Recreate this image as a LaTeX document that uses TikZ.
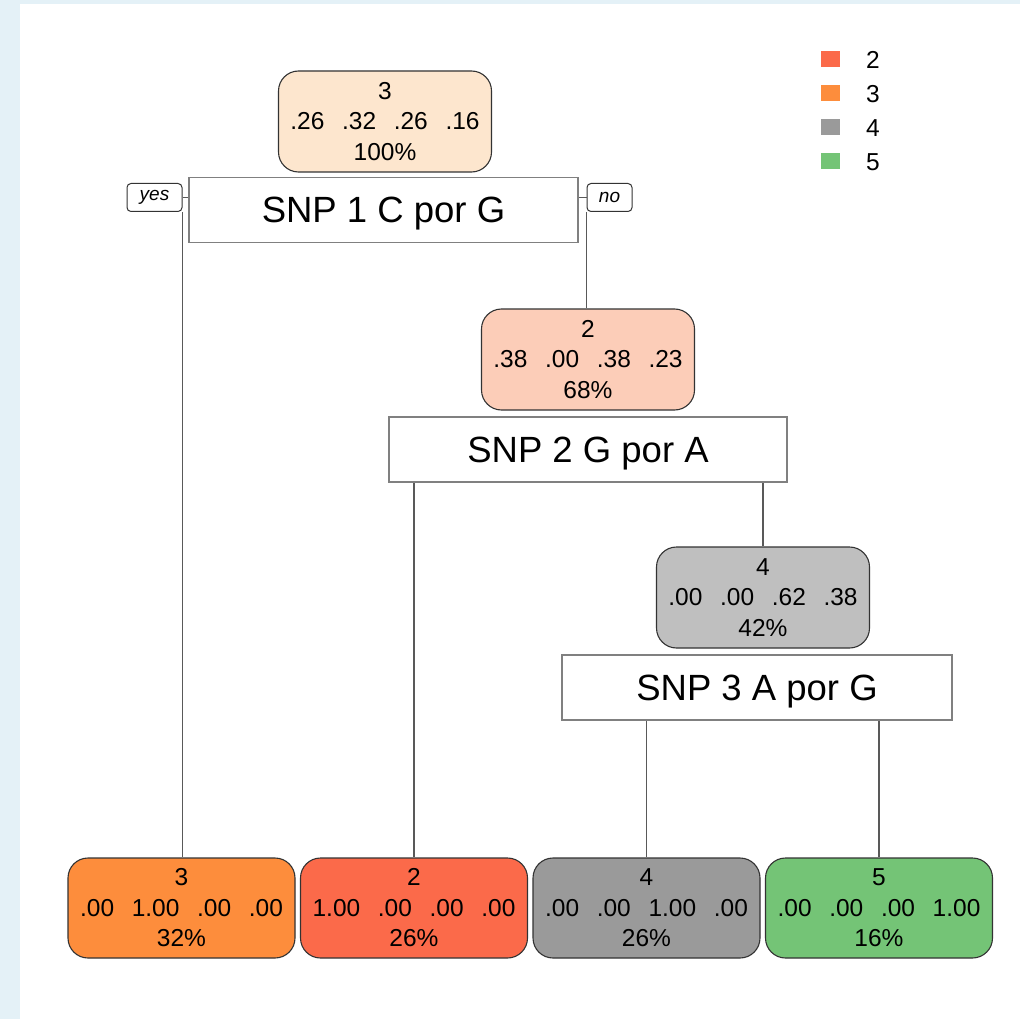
\documentclass[tikz,border=0pt]{standalone}
\usepackage{fontspec}
\setmainfont{Liberation Sans}
\definecolor{bgblue}{HTML}{E4F1F7}
\definecolor{cltwo}{HTML}{FB6A4A}
\definecolor{clthree}{HTML}{FD8D3C}
\definecolor{clfour}{HTML}{9A9A9A}
\definecolor{clfive}{HTML}{74C476}
\definecolor{rootfill}{HTML}{FDE6CE}
\definecolor{twofill}{HTML}{FCCDB8}
\definecolor{fourfill}{HTML}{BFBFBF}
\newcommand\vgap{\hspace{0.72em}}
\newcommand\boxfont{\fontsize{24.5}{30.5}\selectfont}
\tikzset{
  probnode/.style={draw=black!80, line width=1.1pt, rounded corners=20pt, inner sep=0pt,
    minimum width=213pt, minimum height=101pt, align=center, font=\boxfont},
  leafnode/.style={probnode, minimum width=227pt, minimum height=100pt},
  splitnode/.style={draw=black!50, line width=1.5pt, fill=white, inner sep=0pt,
    text height=26pt, text depth=0pt, minimum height=65pt, font=\fontsize{36.5}{40}\selectfont},
  tagnode/.style={draw=black!80, line width=1pt, rounded corners=4pt, fill=white, inner sep=0pt,
    minimum height=28pt, font=\fontsize{19}{22}\selectfont\itshape},
  branch/.style={draw=black!65, line width=1.4pt},
  keybox/.style={inner sep=0pt, minimum width=19pt, minimum height=16pt}
}
\begin{document}
\begin{tikzpicture}[x=1pt, y=-1pt]
  \fill[bgblue] (0,0) rectangle (1020,1019);
  \fill[white] (20,4) rectangle (1020,1019);

  % legend
  \node[keybox, fill=cltwo]   (k2) at (830.5, 59)  {};
  \node[keybox, fill=clthree] (k3) at (830.5, 93)  {};
  \node[keybox, fill=clfour]  (k4) at (830.5, 127) {};
  \node[keybox, fill=clfive]  (k5) at (830.5, 161) {};
  \node[font=\boxfont] (t2) at (873, 60)  {2};
  \node[font=\boxfont] (t3) at (873, 94)  {3};
  \node[font=\boxfont] (t4) at (873, 128) {4};
  \node[font=\boxfont] (t5) at (873, 162) {5};

  % tree
  \node[probnode, fill=rootfill] (root) at (385, 121.5) {3\\.26\vgap.32\vgap.26\vgap.16\\100\%};
  \node[splitnode, minimum width=389pt] (split1) at (383.5, 210) {SNP 1 C por G};
  \node[tagnode, minimum width=55pt] (yes) at (154.5, 197.5) {yes};
  \node[tagnode, minimum width=45pt] (no) at (609.5, 197.5) {no};

  \node[probnode, fill=twofill] (node2) at (588, 359.5) {2\\.38\vgap.00\vgap.38\vgap.23\\68\%};
  \node[splitnode, minimum width=398pt] (split2) at (588, 449.5) {SNP 2 G por A};

  \node[probnode, fill=fourfill] (node4) at (763, 597.5) {4\\.00\vgap.00\vgap.62\vgap.38\\42\%};
  \node[splitnode, minimum width=390pt] (split3) at (757, 687.5) {SNP 3 A por G};

  \node[leafnode, fill=clthree] (leafA) at (181.5, 908) {3\\.00\vgap1.00\vgap.00\vgap.00\\32\%};
  \node[leafnode, fill=cltwo]   (leafB) at (414, 908)   {2\\1.00\vgap.00\vgap.00\vgap.00\\26\%};
  \node[leafnode, fill=clfour]  (leafC) at (646.5, 908) {4\\.00\vgap.00\vgap1.00\vgap.00\\26\%};
  \node[leafnode, fill=clfive]  (leafD) at (879, 908)   {5\\.00\vgap.00\vgap.00\vgap1.00\\16\%};

  % branches
  \draw[branch] (yes.east) -- (yes.east -| split1.west);
  \draw[branch] (no.west) -- (no.west -| split1.east);
  \draw[branch] (yes.south east) -- (yes.south east |- leafA.north);
  \draw[branch] (no.south west) -- (no.south west |- node2.north);
  \draw[branch] (leafB.north) -- (leafB.north |- split2.south);
  \draw[branch] (node4.north) -- (node4.north |- split2.south);
  \draw[branch] (leafC.north) -- (leafC.north |- split3.south);
  \draw[branch] (leafD.north) -- (leafD.north |- split3.south);
\end{tikzpicture}
\end{document}
